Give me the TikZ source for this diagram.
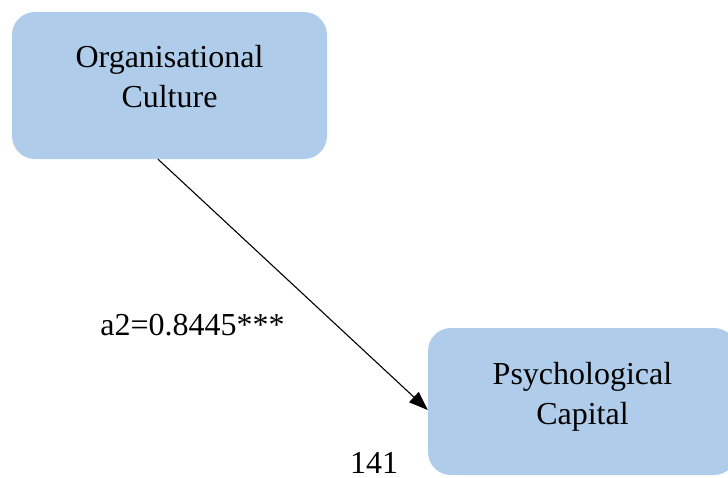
\documentclass[tikz,border=0pt]{standalone}
\usepackage{fontspec}
\setmainfont{Liberation Serif}
\usetikzlibrary{arrows.meta}
\definecolor{boxblue}{HTML}{AFCDEA}
\begin{document}
\begin{tikzpicture}[x=1pt,y=-1pt,
  varbox/.style={fill=boxblue, draw=none, rounded corners=23pt,
    minimum width=309pt, minimum height=147pt, inner sep=0pt},
  vartext/.style={align=center, font=\fontsize{32}{40}\selectfont, inner sep=0pt},
  plain/.style={font=\fontsize{32}{40}\selectfont, inner sep=0pt},
  path/.style={line width=1.1pt, -{Triangle[length=19pt,width=14pt]}}]
\useasboundingbox (0,0) rectangle (728,477);
\begin{scope}
\clip (0,0) rectangle (728,477);
% variables
\node[varbox, minimum width=315pt] (oc) at (169.5,85.5) {};
\node[vartext] (octext) at (169.5,76.5) {Organisational\\Culture};
\node[varbox] (pc) at (582.5,401.5) {};
\node[vartext] (pctext) at (582.5,397) {Psychological\\Capital};
% path with coefficient
\draw[path] ([xshift=-11.5pt]oc.south) -- ([yshift=-8.5pt]pc.west);
\node[plain, anchor=base] (coef) at (192.5,335) {a2=0.8445***};
% page number
\node[plain, anchor=base] (page) at (374,473.5) {141};
\end{scope}
\end{tikzpicture}
\end{document}
